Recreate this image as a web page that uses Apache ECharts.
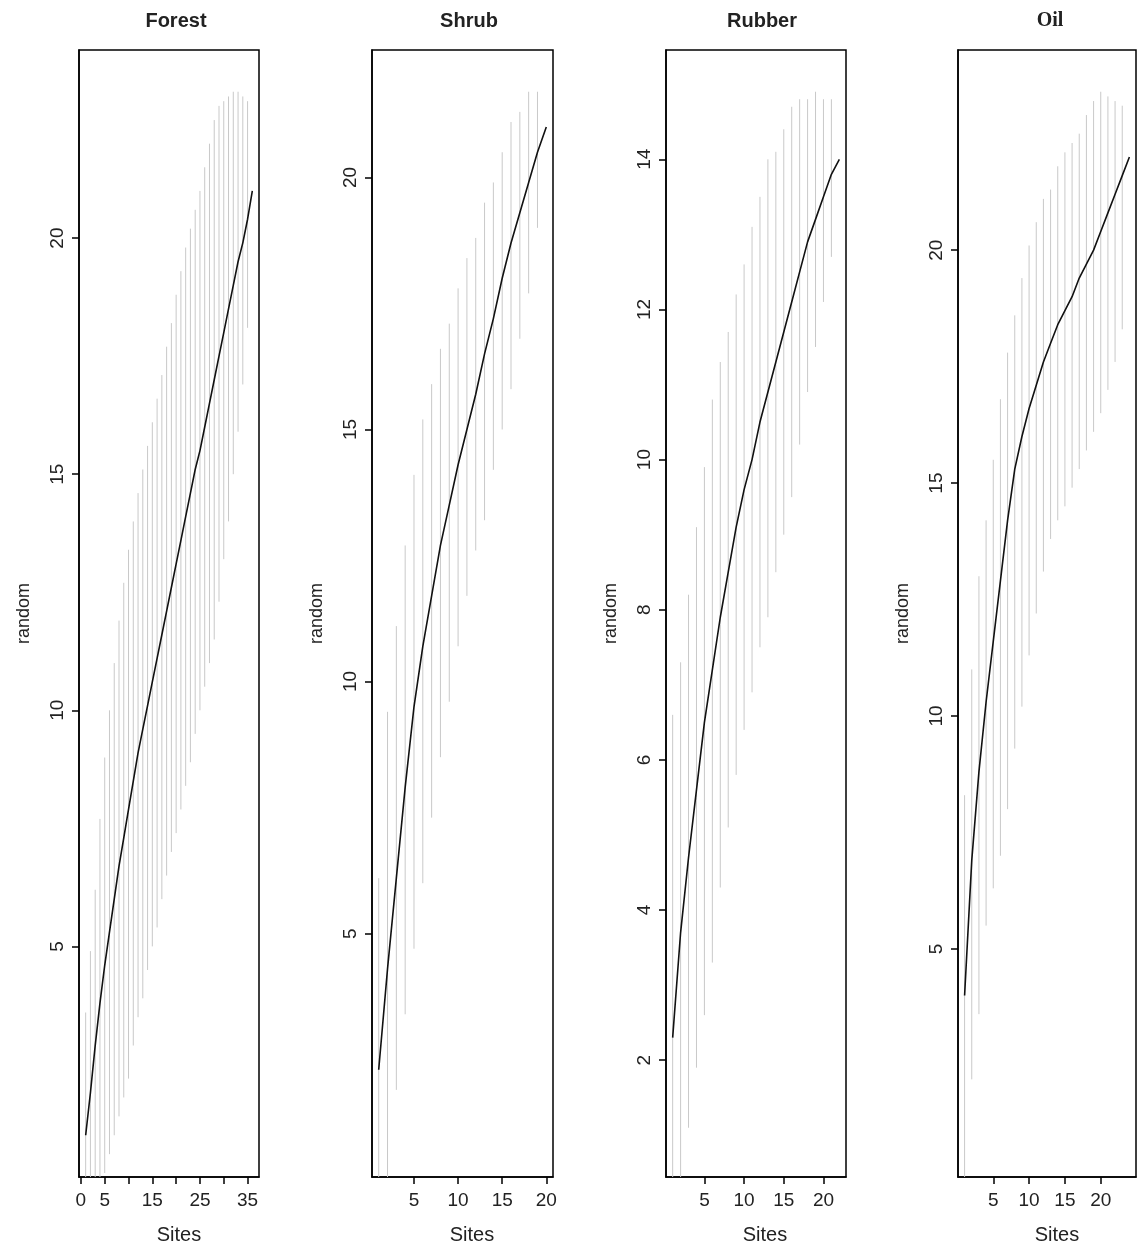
<!DOCTYPE html>
<html>
<head>
<meta charset="utf-8">
<script src="https://cdn.jsdelivr.net/npm/echarts@6/dist/echarts.min.js"></script>
<style>
html, body { margin: 0; padding: 0; background: #fff; }
#main { width: 1137px; height: 1249px; }
</style>
</head>
<body>
<div id="main"></div>
<script>
// species accumulation curves (method "random"), bars = mean +- 2 sd
var forestMean = [1.0, 1.9, 2.9, 3.8, 4.6, 5.3, 6.0, 6.7, 7.3, 7.9, 8.5, 9.1, 9.6, 10.1, 10.6, 11.1, 11.6, 12.1,
  12.6, 13.1, 13.6, 14.1, 14.6, 15.1, 15.5, 16.0, 16.5, 17.0, 17.5, 18.0, 18.5, 19.0, 19.5, 19.9, 20.4, 21.0];
var forestUpper = [3.6, 4.9, 6.2, 7.7, 9.0, 10.0, 11.0, 11.9, 12.7, 13.4, 14.0, 14.6, 15.1, 15.6, 16.1, 16.6, 17.1, 17.7,
  18.2, 18.8, 19.3, 19.8, 20.2, 20.6, 21.0, 21.5, 22.0, 22.5, 22.8, 22.9, 23.0, 23.1, 23.1, 23.0, 22.9, 21.0];
var forestLower = [-1.6, -1.1, -0.4, -0.1, 0.2, 0.6, 1.0, 1.4, 1.8, 2.2, 2.9, 3.5, 3.9, 4.5, 5.0, 5.4, 6.0, 6.5,
  7.0, 7.4, 7.9, 8.4, 8.9, 9.5, 10.0, 10.5, 11.0, 11.5, 12.3, 13.2, 14.0, 15.0, 15.9, 16.9, 18.1, 21.0];

var shrubMean = [2.3, 4.3, 6.1, 7.9, 9.5, 10.7, 11.7, 12.7, 13.5, 14.3, 15.0, 15.7, 16.5, 17.2, 18.0, 18.7, 19.3, 19.9, 20.5, 21.0];
var shrubUpper = [6.1, 9.4, 11.1, 12.7, 14.1, 15.2, 15.9, 16.6, 17.1, 17.8, 18.4, 18.8, 19.5, 19.9, 20.5, 21.1, 21.3, 21.7, 21.7, 21.0];
var shrubLower = [-1.5, -0.5, 1.9, 3.4, 4.7, 6.0, 7.3, 8.5, 9.6, 10.7, 11.7, 12.6, 13.2, 14.2, 15.0, 15.8, 16.8, 17.7, 19.0, 21.0];

var rubberMean = [2.3, 3.7, 4.7, 5.6, 6.5, 7.2, 7.9, 8.5, 9.1, 9.6, 10.0, 10.5, 10.9, 11.3, 11.7, 12.1, 12.5, 12.9, 13.2, 13.5, 13.8, 14.0];
var rubberUpper = [6.6, 7.3, 8.2, 9.1, 9.9, 10.8, 11.3, 11.7, 12.2, 12.6, 13.1, 13.5, 14.0, 14.1, 14.4, 14.7, 14.8, 14.8, 14.9, 14.8, 14.8, 14.0];
var rubberLower = [-2.0, 0.1, 1.1, 1.9, 2.6, 3.3, 4.3, 5.1, 5.8, 6.4, 6.9, 7.5, 7.9, 8.5, 9.0, 9.5, 10.2, 10.9, 11.5, 12.1, 12.7, 14.0];

var oilMean = [4.0, 6.9, 8.8, 10.3, 11.6, 12.9, 14.2, 15.3, 16.0, 16.6, 17.1, 17.6, 18.0, 18.4, 18.7, 19.0, 19.4, 19.7, 20.0, 20.4, 20.8, 21.2, 21.6, 22.0];
var oilUpper = [8.3, 11.0, 13.0, 14.2, 15.5, 16.8, 17.8, 18.6, 19.4, 20.1, 20.6, 21.1, 21.3, 21.8, 22.1, 22.3, 22.5, 22.9, 23.2, 23.4, 23.3, 23.2, 23.1, 22.0];
var oilLower = [-0.5, 2.2, 3.6, 5.5, 6.3, 7.0, 8.0, 9.3, 10.2, 11.3, 12.2, 13.1, 13.8, 14.2, 14.5, 14.9, 15.3, 15.7, 16.1, 16.5, 17.0, 17.6, 18.3, 22.0];

var forestXTicks = [0, 5, 10, 15, 20, 25, 30, 35];
var forestXLabels = [0, 5, 15, 25, 35];
var siteTicks = [5, 10, 15, 20];
var fiveTicks = [5, 10, 15, 20];
var rubberYTicks = [2, 4, 6, 8, 10, 12, 14];

var yFloor = 1; // lower end of the y range before R's 4% padding

var panels = [
  {title: 'Forest', mean: forestMean, upper: forestUpper, lower: forestLower, xTicks: forestXTicks, xLabels: forestXLabels, yTicks: fiveTicks},
  {title: 'Shrub', mean: shrubMean, upper: shrubUpper, lower: shrubLower, xTicks: siteTicks, xLabels: siteTicks, yTicks: fiveTicks},
  {title: 'Rubber', mean: rubberMean, upper: rubberUpper, lower: rubberLower, xTicks: siteTicks, xLabels: siteTicks, yTicks: rubberYTicks},
  {title: 'Oil', mean: oilMean, upper: oilUpper, lower: oilLower, xTicks: siteTicks, xLabels: siteTicks, yTicks: fiveTicks}
];

// layout in px
var boxes = [
  {left: 79, width: 180},
  {left: 372, width: 181},
  {left: 666, width: 180},
  {left: 958, width: 178}
];
var titleX = [176, 469, 762, 1050];
var sitesX = [179, 472, 765, 1057];
var gridTop = 50, gridHeight = 1127;

var sans = '"Liberation Sans", Arial, sans-serif';
var chart = echarts.init(document.getElementById('main'));

var grids = [], xAxes = [], yAxes = [], series = [], graphics = [];

panels.forEach(function (p, i) {
  var n = p.mean.length;
  var yMax = Math.max.apply(null, p.upper);
  var yPad = 0.04 * (yMax - yFloor);
  var xPad = 0.04 * (n - 1);

  grids.push({
    left: boxes[i].left, width: boxes[i].width, top: gridTop, height: gridHeight,
    show: true, borderColor: '#000', borderWidth: 1.5, backgroundColor: 'transparent'
  });

  xAxes.push({
    gridIndex: i, type: 'value',
    min: 1 - xPad, max: n + xPad,
    axisLine: {show: true, onZero: false, lineStyle: {color: '#000', width: 1.5}},
    axisTick: {show: true, length: 7, customValues: p.xTicks, lineStyle: {color: '#000', width: 1.5}},
    axisLabel: {customValues: p.xLabels, margin: 14, fontSize: 19, color: '#222', fontFamily: sans},
    splitLine: {show: false}
  });

  yAxes.push({
    gridIndex: i, type: 'value',
    min: yFloor - yPad, max: yMax + yPad,
    axisLine: {show: true, onZero: false, lineStyle: {color: '#000', width: 1.5}},
    axisTick: {show: true, length: 7, customValues: p.yTicks, lineStyle: {color: '#000', width: 1.5}},
    axisLabel: {customValues: p.yTicks, rotate: 90, margin: 12, fontSize: 19, color: '#222', fontFamily: sans},
    splitLine: {show: false},
    name: 'random', nameLocation: 'middle', nameGap: 46,
    nameTextStyle: {fontSize: 18, color: '#222', fontFamily: sans}
  });

  series.push({
    type: 'custom', xAxisIndex: i, yAxisIndex: i, clip: true, silent: true, z: 1,
    data: p.upper.map(function (u, k) { return [k + 1, p.lower[k], u]; }),
    renderItem: function (params, api) {
      var a = api.coord([api.value(0), api.value(1)]);
      var b = api.coord([api.value(0), api.value(2)]);
      return {
        type: 'line',
        shape: {x1: a[0], y1: a[1], x2: b[0], y2: b[1]},
        style: {stroke: '#c9c9c9', lineWidth: 1}
      };
    }
  });

  series.push({
    type: 'line', xAxisIndex: i, yAxisIndex: i, z: 3,
    data: p.mean.map(function (v, k) { return [k + 1, v]; }),
    showSymbol: false, symbol: 'none',
    lineStyle: {color: '#111', width: 1.6},
    itemStyle: {color: '#111'}
  });

  graphics.push({
    type: 'text', x: titleX[i], y: 21,
    style: {
      text: p.title, align: 'center', verticalAlign: 'middle', fill: '#222',
      font: 'bold 20px ' + (p.title === 'Oil' ? '"Liberation Serif", serif' : sans)
    }
  });
  graphics.push({
    type: 'text', x: sitesX[i], y: 1235,
    style: {text: 'Sites', align: 'center', verticalAlign: 'middle', fill: '#222', font: '20px ' + sans}
  });
});

chart.setOption({
  animation: false,
  backgroundColor: '#fff',
  grid: grids,
  xAxis: xAxes,
  yAxis: yAxes,
  series: series,
  graphic: graphics
});
</script>
</body>
</html>
